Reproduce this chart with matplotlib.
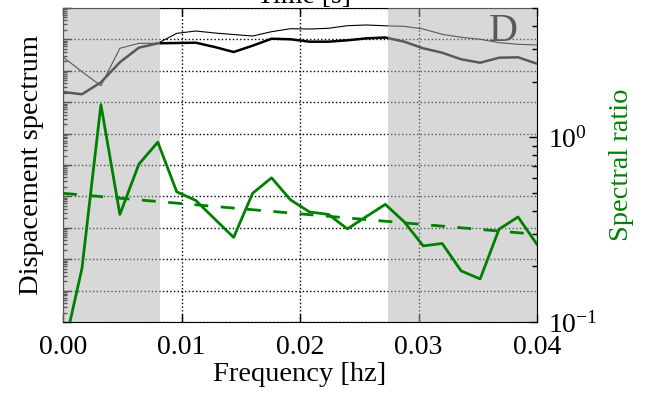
import matplotlib
matplotlib.use("Agg")
import matplotlib.pyplot as plt
from matplotlib.ticker import LogLocator, NullFormatter, FormatStrFormatter
import numpy as np

plt.rcParams['font.family'] = ['Liberation Serif', 'DejaVu Serif']
plt.rcParams['mathtext.fontset'] = 'stix'
plt.rcParams['xtick.direction'] = 'in'
plt.rcParams['ytick.direction'] = 'in'
plt.rcParams['xtick.top'] = True
plt.rcParams['font.size'] = 20

# --- data
freq = [0.0, 0.0016, 0.0032, 0.0048, 0.0064, 0.0080, 0.0096, 0.0112, 0.0128,
        0.0144, 0.0160, 0.0176, 0.0192, 0.0208, 0.0224, 0.0240, 0.0256,
        0.0272, 0.0288, 0.0304, 0.0320, 0.0336, 0.0352, 0.0368, 0.0384, 0.0400]

# displacement spectra (arbitrary units)
spec_base = [2.11e3, 1.79e3, 4.30e3, 1.87e4, 5.44e4, 7.51e4, 7.68e4, 7.85e4, 5.73e4,
             3.97e4, 6.30e4, 1.05e5, 1.01e5, 8.45e4, 8.45e4, 9.36e4, 1.08e5,
             1.15e5, 8.45e4, 5.21e4, 3.77e4, 2.32e4, 1.81e4, 2.61e4, 2.69e4, 1.68e4]
spec_top = [2.75e4, 9.36e3, 3.35e3, 5.21e4, 7.51e4, 7.51e4, 1.56e5, 1.85e5, 1.60e5,
            1.43e5, 1.28e5, 1.76e5, 2.19e5, 2.14e5, 2.26e5, 2.73e5, 2.88e5,
            2.71e5, 2.61e5, 2.14e5, 1.45e5, 1.17e5, 1.01e5, 7.85e4, 6.98e4, 6.64e4]

ratio = [0.068, 0.195, 1.50, 0.382, 0.714, 0.940, 0.506, 0.455, 0.361,
         0.287, 0.497, 0.603, 0.458, 0.394, 0.382, 0.319, 0.372,
         0.433, 0.348, 0.258, 0.266, 0.189, 0.171, 0.318, 0.370, 0.263]

fit_freq = [0.0, 0.04]
fit_ratio = [0.497, 0.298]

bands = [(0.0, 0.0082), (0.0274, 0.04)]

fig = plt.figure(figsize=(6.49, 3.93), dpi=100)
ax1 = fig.add_axes([63 / 649, 71 / 393, 474 / 649, 314 / 393])

ax1.plot(freq, spec_top, color='k', lw=0.8)
ax1.plot(freq, spec_base, color='k', lw=1.8)
ax1.set_yscale('log')
ax1.set_ylim(1e-4, 1e6)
ax1.set_xlim(0, 0.04)
ax1.yaxis.set_major_locator(LogLocator(base=10, numticks=20))
ax1.yaxis.set_minor_locator(LogLocator(base=10, subs=np.arange(2, 10), numticks=20))
ax1.yaxis.set_major_formatter(NullFormatter())
ax1.yaxis.set_minor_formatter(NullFormatter())
ax1.set_xticks([0.0, 0.01, 0.02, 0.03, 0.04])
ax1.xaxis.set_major_formatter(FormatStrFormatter('%.2f'))
ax1.tick_params(which='major', length=6, width=1)
ax1.tick_params(which='minor', length=3, width=1)
ax1.tick_params(axis='x', pad=9)
ax1.grid(True, which='major', color='k', linestyle=':', lw=1)
ax1.set_xlabel('Frequency [hz]', labelpad=2, fontsize=20.5)
ax1.set_ylabel('Dispacement spectrum', labelpad=10, fontsize=20.5)
ax1.text(0.96, 0.985, 'D', transform=ax1.transAxes, ha='right', va='top',
         fontsize=29, color='k')

# twin axis: shading goes on top of the spectra, ratio curves on top of the shading
ax2 = ax1.twinx()
for s in ax2.spines.values():
    s.set_visible(False)
for lo, hi in bands:
    ax2.axvspan(lo, hi, color='0.7', alpha=0.5, lw=0, zorder=1)
ax2.plot(freq, ratio, color='green', lw=2, zorder=3)
ax2.plot(fit_freq, fit_ratio, color='green', lw=2, linestyle=(0, (5, 4.5)), zorder=3)
ax2.set_yscale('log')
ax2.set_ylim(0.1, 5)
ax2.set_xlim(0, 0.04)
ax2.tick_params(which='major', length=6, width=1, pad=8)
ax2.tick_params(which='minor', length=3.5, width=1)
ax2.set_ylabel('Spectral ratio', color='green', labelpad=8, fontsize=20.5)

fig.text(303.5 / 649, 1 - 3 / 393, 'Time [s]', ha='center', va='baseline', fontsize=20)

fig.savefig('out.png', dpi=100)
